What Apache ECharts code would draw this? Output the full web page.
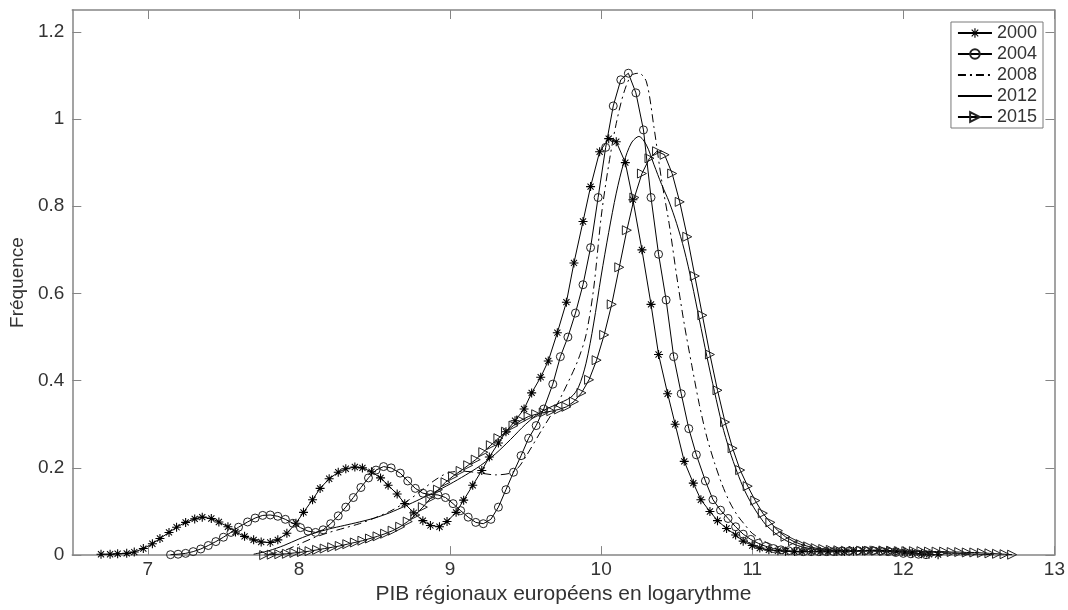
<!DOCTYPE html>
<html>
<head>
<meta charset="utf-8">
<title>PIB régionaux européens</title>
<script src="https://cdn.jsdelivr.net/npm/echarts/dist/echarts.min.js"></script>
<style>
  html, body { margin: 0; padding: 0; background: #fff; }
  #chart { width: 1068px; height: 610px; }
</style>
</head>
<body>
<div id="chart"></div>
<script>
// densités (x = log du PIB, y = fréquence)
const xTicks = [7, 8, 9, 10, 11, 12, 13]
const yTicks = [0, 0.2, 0.4, 0.6, 0.8, 1, 1.2]

const x2000 = [
  6.69, 6.75, 6.80, 6.86, 6.91, 6.97, 7.03, 7.08, 7.14, 7.19,
  7.25, 7.31, 7.36, 7.42, 7.47, 7.53, 7.58, 7.64, 7.70, 7.75,
  7.81, 7.86, 7.92, 7.98, 8.03, 8.09, 8.14, 8.20, 8.26, 8.31,
  8.37, 8.42, 8.48, 8.54, 8.59, 8.65, 8.70, 8.76, 8.82, 8.87,
  8.93, 8.98, 9.04, 9.09, 9.15, 9.21, 9.26, 9.32, 9.37, 9.43,
  9.49, 9.54, 9.60, 9.65, 9.71, 9.77, 9.82, 9.88, 9.93, 9.99,
  10.05, 10.10, 10.16, 10.21, 10.27, 10.33, 10.38, 10.44, 10.49, 10.55,
  10.61, 10.66, 10.72, 10.77, 10.83, 10.89, 10.94, 11.00, 11.05, 11.11,
  11.17, 11.22, 11.28, 11.33, 11.39, 11.45, 11.50, 11.56, 11.61, 11.67,
  11.73, 11.78, 11.84, 11.89, 11.95, 12.01, 12.06, 12.12, 12.17, 12.23
]
const y2000 = [
  0.002, 0.002, 0.003, 0.004, 0.007, 0.015, 0.026, 0.038, 0.052, 0.064,
  0.075, 0.083, 0.087, 0.084, 0.076, 0.065, 0.053, 0.043, 0.035, 0.030,
  0.029, 0.035, 0.050, 0.073, 0.098, 0.127, 0.153, 0.175, 0.190, 0.198,
  0.202, 0.200, 0.191, 0.177, 0.160, 0.140, 0.118, 0.097, 0.079, 0.068,
  0.065, 0.077, 0.098, 0.126, 0.160, 0.194, 0.225, 0.257, 0.283, 0.308,
  0.335, 0.372, 0.408, 0.445, 0.510, 0.580, 0.670, 0.765, 0.845, 0.925,
  0.955, 0.948, 0.900, 0.815, 0.700, 0.575, 0.460, 0.370, 0.300, 0.215,
  0.165, 0.127, 0.100, 0.079, 0.061, 0.046, 0.032, 0.022, 0.016, 0.012,
  0.010, 0.009, 0.008, 0.008, 0.008, 0.008, 0.008, 0.008, 0.008, 0.009,
  0.010, 0.011, 0.011, 0.010, 0.009, 0.007, 0.005, 0.003, 0.002, 0.001
]

const x2004 = [
  7.15, 7.20, 7.25, 7.30, 7.35, 7.40, 7.45, 7.50, 7.55, 7.60,
  7.66, 7.71, 7.76, 7.81, 7.86, 7.91, 7.96, 8.01, 8.06, 8.11,
  8.16, 8.21, 8.26, 8.31, 8.36, 8.41, 8.46, 8.51, 8.56, 8.61,
  8.67, 8.72, 8.77, 8.82, 8.87, 8.92, 8.97, 9.02, 9.07, 9.12,
  9.17, 9.22, 9.27, 9.32, 9.37, 9.42, 9.47, 9.52, 9.57, 9.62,
  9.68, 9.73, 9.78, 9.83, 9.88, 9.93, 9.98, 10.03, 10.08, 10.13,
  10.18, 10.23, 10.28, 10.33, 10.38, 10.43, 10.48, 10.53, 10.58, 10.63,
  10.69, 10.74, 10.79, 10.84, 10.89, 10.94, 10.99, 11.04, 11.09, 11.14,
  11.19, 11.24, 11.29, 11.34, 11.39, 11.44, 11.49, 11.54, 11.59, 11.64,
  11.70, 11.75, 11.80, 11.85, 11.90, 11.95, 12.00, 12.05, 12.10, 12.15
]
const y2004 = [
  0.001, 0.002, 0.004, 0.008, 0.014, 0.022, 0.031, 0.041, 0.052, 0.064,
  0.076, 0.085, 0.091, 0.092, 0.089, 0.082, 0.073, 0.063, 0.055, 0.052,
  0.058, 0.072, 0.090, 0.110, 0.132, 0.155, 0.177, 0.195, 0.203, 0.200,
  0.188, 0.170, 0.153, 0.142, 0.139, 0.138, 0.132, 0.118, 0.102, 0.087,
  0.075, 0.072, 0.082, 0.110, 0.150, 0.190, 0.228, 0.268, 0.297, 0.335,
  0.392, 0.455, 0.500, 0.555, 0.620, 0.705, 0.820, 0.935, 1.030, 1.090,
  1.105, 1.060, 0.975, 0.820, 0.690, 0.585, 0.455, 0.370, 0.290, 0.230,
  0.170, 0.127, 0.103, 0.084, 0.065, 0.048, 0.036, 0.027, 0.020, 0.015,
  0.012, 0.010, 0.009, 0.008, 0.008, 0.008, 0.008, 0.008, 0.009, 0.009,
  0.010, 0.010, 0.010, 0.009, 0.008, 0.006, 0.004, 0.003, 0.002, 0.001
]

const x2008 = [
  7.80, 7.90, 8.00, 8.10, 8.20, 8.30, 8.40, 8.50, 8.60, 8.70, 8.80, 8.90,
  9.00, 9.10, 9.20, 9.30, 9.40, 9.45, 9.50, 9.60, 9.70, 9.80,
  9.85, 9.90, 9.95, 10.00, 10.05, 10.10, 10.15, 10.20, 10.25, 10.30,
  10.35, 10.40, 10.45, 10.50, 10.55, 10.60, 10.65, 10.70, 10.75, 10.80,
  10.85, 10.90, 10.95, 11.00, 11.10, 11.20, 11.30, 11.50, 11.70, 11.90,
  12.10, 12.30, 12.50
]
const y2008 = [
  0.002, 0.010, 0.025, 0.040, 0.052, 0.062, 0.072, 0.085, 0.100, 0.120, 0.145, 0.172,
  0.190, 0.192, 0.188, 0.184, 0.188, 0.200, 0.225, 0.283, 0.340, 0.410,
  0.450, 0.505, 0.610, 0.775, 0.895, 0.990, 1.060, 1.100, 1.105, 1.085,
  0.980, 0.860, 0.760, 0.640, 0.530, 0.435, 0.345, 0.270, 0.212, 0.162,
  0.122, 0.092, 0.070, 0.050, 0.028, 0.017, 0.012, 0.010, 0.010, 0.009,
  0.006, 0.003, 0.001
]

const x2012 = [
  7.70, 7.80, 7.90, 8.00, 8.10, 8.20, 8.30, 8.40, 8.50, 8.60, 8.70,
  8.80, 8.90, 9.00, 9.10, 9.20, 9.30, 9.40, 9.50, 9.60, 9.70, 9.80,
  9.85, 9.90, 9.95, 10.00, 10.05, 10.10, 10.15, 10.20, 10.25, 10.30,
  10.35, 10.40, 10.45, 10.50, 10.55, 10.60, 10.65, 10.70, 10.75, 10.80,
  10.85, 10.90, 10.95, 11.00, 11.05, 11.10, 11.20, 11.30, 11.40, 11.50,
  11.70, 11.90, 12.10, 12.30, 12.50, 12.60
]
const y2012 = [
  0.002, 0.010, 0.022, 0.037, 0.050, 0.060, 0.068, 0.076, 0.085, 0.097, 0.112,
  0.128, 0.145, 0.163, 0.183, 0.205, 0.232, 0.265, 0.300, 0.328, 0.345, 0.362,
  0.385, 0.440, 0.530, 0.640, 0.740, 0.830, 0.900, 0.945, 0.960, 0.940,
  0.895, 0.850, 0.810, 0.760, 0.700, 0.625, 0.540, 0.455, 0.375, 0.300,
  0.240, 0.190, 0.148, 0.115, 0.088, 0.066, 0.038, 0.022, 0.014, 0.011,
  0.010, 0.010, 0.008, 0.005, 0.002, 0.001
]

const x2015 = [
  7.77, 7.82, 7.87, 7.92, 7.97, 8.02, 8.07, 8.12, 8.17, 8.22,
  8.27, 8.32, 8.37, 8.42, 8.47, 8.52, 8.57, 8.62, 8.67, 8.72,
  8.77, 8.82, 8.87, 8.92, 8.97, 9.02, 9.07, 9.12, 9.17, 9.22,
  9.27, 9.32, 9.37, 9.42, 9.47, 9.52, 9.57, 9.62, 9.67, 9.72,
  9.77, 9.82, 9.87, 9.92, 9.97, 10.02, 10.07, 10.12, 10.17, 10.22,
  10.27, 10.32, 10.37, 10.42, 10.47, 10.52, 10.57, 10.62, 10.67, 10.72,
  10.77, 10.82, 10.87, 10.92, 10.97, 11.02, 11.07, 11.12, 11.17, 11.22,
  11.27, 11.32, 11.37, 11.42, 11.47, 11.52, 11.57, 11.62, 11.67, 11.72,
  11.77, 11.82, 11.87, 11.92, 11.97, 12.02, 12.07, 12.12, 12.17, 12.22,
  12.27, 12.32, 12.37, 12.42, 12.47, 12.52, 12.57, 12.62, 12.67, 12.72
]
const y2015 = [
  0.000, 0.001, 0.002, 0.003, 0.005, 0.007, 0.009, 0.012, 0.015, 0.018,
  0.021, 0.025, 0.029, 0.033, 0.038, 0.043, 0.049, 0.056, 0.065, 0.077,
  0.092, 0.110, 0.130, 0.150, 0.167, 0.181, 0.193, 0.206, 0.219, 0.236,
  0.252, 0.268, 0.283, 0.297, 0.309, 0.318, 0.323, 0.327, 0.330, 0.334,
  0.340, 0.352, 0.372, 0.402, 0.447, 0.505, 0.575, 0.660, 0.745, 0.820,
  0.875, 0.910, 0.926, 0.918, 0.875, 0.810, 0.730, 0.640, 0.550, 0.460,
  0.378, 0.305, 0.245, 0.195, 0.158, 0.125, 0.096, 0.075, 0.056, 0.042,
  0.032, 0.025, 0.020, 0.016, 0.014, 0.012, 0.011, 0.010, 0.010, 0.010,
  0.010, 0.010, 0.010, 0.010, 0.009, 0.009, 0.009, 0.009, 0.008, 0.008,
  0.008, 0.007, 0.007, 0.006, 0.006, 0.005, 0.004, 0.003, 0.002, 0.001
]

const asterisk = 'path://M0 4.4L10 4.4L10 5.6L0 5.6Z M4.4 0L5.6 0L5.6 10L4.4 10Z M1.2 2L2 1.2L8.8 8L8 8.8Z M8 1.2L8.8 2L2 8.8L1.2 8Z'
const triangleRight = 'path://M0 0L10 5L0 10Z'

const frameColor = '#858585'
const textColor = '#333'

function pairs(xs, ys) {
  return xs.map((x, i) => [x, ys[i]])
}

const chart = echarts.init(document.getElementById('chart'))

const baseLine = { color: '#000', width: 1 }

chart.setOption({
  animation: false,
  backgroundColor: '#fff',
  textStyle: { fontFamily: 'Liberation Sans, Arial, sans-serif' },
  grid: { left: 66, right: 12, top: 10, bottom: 50 },
  legend: {
    orient: 'vertical',
    right: 25,
    top: 22,
    padding: [2, 6, 2, 6],
    itemGap: 3,
    itemWidth: 34,
    itemHeight: 12,
    backgroundColor: '#fff',
    borderColor: '#7a7a7a',
    borderWidth: 1,
    borderRadius: 0,
    textStyle: { color: textColor, fontSize: 18, lineHeight: 18 },
    // 2008 et 2012 : trait seul, sans marqueur
    data: [
      '2000',
      '2004',
      { name: '2008', itemStyle: { opacity: 0 } },
      { name: '2012', itemStyle: { opacity: 0 } },
      '2015'
    ]
  },
  xAxis: [{
    type: 'value',
    min: 6.5,
    max: 13,
    name: 'PIB régionaux européens en logarythme',
    nameLocation: 'middle',
    nameGap: 26,
    nameTextStyle: { color: textColor, fontSize: 21 },
    axisLine: { lineStyle: { color: frameColor, width: 1.5 } },
    axisTick: { inside: true, length: 9, customValues: xTicks, lineStyle: { color: frameColor } },
    axisLabel: { customValues: xTicks, color: textColor, fontSize: 19, margin: 5 },
    splitLine: { show: false }
  }, {
    // cadre du haut, graduations miroir
    type: 'value',
    position: 'top',
    min: 6.5,
    max: 13,
    axisLine: { onZero: false, lineStyle: { color: frameColor, width: 1.5 } },
    axisTick: { inside: true, length: 9, customValues: xTicks, lineStyle: { color: frameColor } },
    axisLabel: { show: false },
    splitLine: { show: false }
  }],
  yAxis: [{
    type: 'value',
    min: 0,
    max: 1.25,
    name: 'Fréquence',
    nameLocation: 'middle',
    nameGap: 33,
    nameTextStyle: { color: textColor, fontSize: 19 },
    axisLine: { show: true, lineStyle: { color: frameColor, width: 1.5 } },
    axisTick: { show: true, inside: true, length: 9, customValues: yTicks, lineStyle: { color: frameColor } },
    axisLabel: { customValues: yTicks, color: textColor, fontSize: 19, margin: 8 },
    splitLine: { show: false }
  }, {
    type: 'value',
    position: 'right',
    min: 0,
    max: 1.25,
    axisLine: { show: true, onZero: false, lineStyle: { color: frameColor, width: 1.5 } },
    axisTick: { show: true, inside: true, length: 9, customValues: yTicks, lineStyle: { color: frameColor } },
    axisLabel: { show: false },
    splitLine: { show: false }
  }],
  series: [
    {
      name: '2000',
      type: 'line',
      data: pairs(x2000, y2000),
      symbol: asterisk,
      symbolSize: 9,
      showAllSymbol: true,
      lineStyle: baseLine,
      itemStyle: { color: '#000' }
    },
    {
      name: '2004',
      type: 'line',
      data: pairs(x2004, y2004),
      symbol: 'circle',
      symbolSize: 8,
      showAllSymbol: true,
      lineStyle: baseLine,
      itemStyle: { color: 'rgba(0,0,0,0)', borderColor: '#222', borderWidth: 1 }
    },
    {
      name: '2008',
      type: 'line',
      data: pairs(x2008, y2008),
      symbol: 'none',
      smooth: 0.3,
      lineStyle: { color: '#000', width: 1, type: [8, 4, 2, 4] },
      itemStyle: { color: '#000' }
    },
    {
      name: '2012',
      type: 'line',
      data: pairs(x2012, y2012),
      symbol: 'none',
      smooth: 0.3,
      lineStyle: baseLine,
      itemStyle: { color: '#000' }
    },
    {
      name: '2015',
      type: 'line',
      data: pairs(x2015, y2015),
      symbol: triangleRight,
      symbolSize: 9,
      showAllSymbol: true,
      lineStyle: baseLine,
      itemStyle: { color: 'rgba(0,0,0,0)', borderColor: '#222', borderWidth: 1 }
    }
  ]
})
</script>
</body>
</html>
